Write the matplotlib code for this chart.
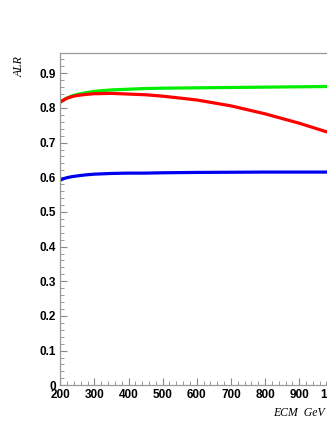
import numpy as np
import matplotlib.pyplot as plt
from matplotlib.ticker import MultipleLocator

# ECM points (GeV) and ALR values
ecm = [200, 210, 220, 235, 250, 275, 300, 350, 400, 450, 500, 600, 700, 800, 900, 1000]
alr_red = [0.817, 0.823, 0.828, 0.833, 0.836, 0.839, 0.841, 0.842, 0.840, 0.838, 0.834,
           0.823, 0.806, 0.783, 0.756, 0.725]
alr_green = [0.817, 0.823, 0.829, 0.835, 0.839, 0.844, 0.848, 0.852, 0.854, 0.856, 0.857,
             0.858, 0.859, 0.860, 0.861, 0.862]
alr_blue = [0.592, 0.596, 0.599, 0.602, 0.604, 0.607, 0.609, 0.611, 0.612, 0.612, 0.613,
            0.614, 0.6145, 0.615, 0.615, 0.615]

W, H = 327, 423
fig = plt.figure(figsize=(W / 100, H / 100), dpi=100)
# axes runs past the right edge of the picture (cropped original)
ax = fig.add_axes([60.3 / W, 37.7 / H, 273 / W, 332 / H])

ax.plot(ecm, alr_green, color='#00ee00', lw=2.3, solid_capstyle='butt')
ax.plot(ecm, alr_red, color='#ff0000', lw=2.3, solid_capstyle='butt')
ax.plot(ecm, alr_blue, color='#0000ee', lw=2.3, solid_capstyle='butt')

ax.set_xlim(200, 1000)
ax.set_ylim(0, 0.9576)

ax.xaxis.set_major_locator(MultipleLocator(100))
ax.xaxis.set_minor_locator(MultipleLocator(20))
ax.yaxis.set_major_locator(MultipleLocator(0.1))
ax.yaxis.set_minor_locator(MultipleLocator(0.02))
ax.tick_params(which='both', direction='in', color='#888888', top=False, right=False)
ax.tick_params(which='major', length=5, width=0.8, pad=3)
ax.tick_params(which='minor', length=3, width=0.6)

ax.set_yticks(np.arange(0, 0.95, 0.1))
ax.set_yticklabels(['0'] + ['%.1f' % v for v in np.arange(0.1, 0.95, 0.1)])

for lab in ax.get_xticklabels() + ax.get_yticklabels():
    lab.set_fontfamily('Liberation Sans')
    lab.set_fontweight('bold')
    lab.set_fontsize(8.5)

for s in ax.spines.values():
    s.set_color('#999999')
    s.set_linewidth(0.9)

fig.text(20 / W, 1 - 56 / H, 'ALR', rotation=90, ha='center', va='top',
         family='Liberation Serif', style='italic', fontsize=8.5)
fig.text(273 / W, 1 - 416 / H, 'ECM  GeV', ha='left', va='baseline',
         family='Liberation Serif', style='italic', fontsize=8.5)

fig.savefig('out.png', dpi=100)
